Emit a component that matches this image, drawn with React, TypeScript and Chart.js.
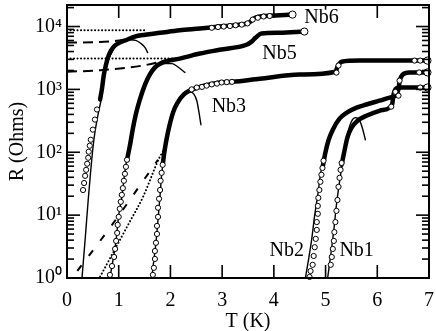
import React, { useEffect, useRef } from 'react';
import { Chart, registerables } from 'chart.js';

Chart.register(...registerables);

type P = [number, number];

// ---- axis ticks ----
const xTicks = [0, 1, 2, 3, 4, 5, 6, 7];
const yDecades = [1, 10, 100, 1000, 10000];
const yDecadeLabels = ['10⁰', '10¹', '10²', '10³', '10⁴'];
const yMinorMult = [2, 3, 4, 5, 6, 7, 8, 9];

// ---- Nb6 (T [K], R [Ohm]) ----
const nb6Circles: P[] = [
  [0.31, 25.1], [0.33, 32.4], [0.35, 42.2], [0.37, 52.5], [0.39, 65.6], [0.41, 81.7],
  [0.42, 102], [0.44, 127], [0.46, 158], [0.5, 229], [0.54, 331], [0.58, 479],
  [2.8, 9550], [2.92, 9820], [3.03, 10000], [3.15, 10190], [3.26, 10470], [3.38, 10720],
  [3.49, 11220], [3.59, 12880], [3.69, 13800], [3.8, 14450], [3.92, 14700],
];
const nb6Band: P[] = [
  [0.64, 692], [0.68, 1072], [0.71, 1660], [0.75, 2400], [0.79, 3206], [0.85, 4150],
  [0.93, 5012], [1.02, 5560], [1.16, 6166], [1.31, 6918], [1.51, 7413], [1.8, 7943],
  [2.18, 8710], [2.57, 9290], [2.95, 10000], [3.34, 10720], [3.49, 11220], [3.55, 12020],
  [3.61, 13400], [3.73, 14450], [4.02, 14960], [4.36, 15490],
];
const nb6Fit: P[] = [
  [0.29, 1], [0.35, 4.03], [0.41, 17.4], [0.46, 52.5], [0.52, 158], [0.6, 398], [0.66, 692],
  [0.71, 1429], [0.79, 2754], [0.89, 4266], [0.98, 5370], [1.1, 6026], [1.22, 6166],
  [1.33, 6026], [1.43, 5370], [1.51, 4624], [1.56, 3846],
];
const nb6Ends: P[] = [[4.36, 15490]];
const nb6Dotted: P[] = [[0, 8710], [1.54, 8710]];
const nb6Dashed: P[] = [[0, 5560], [0.64, 5660], [1.12, 6100]];

// ---- Nb5 ----
const nb5Circles: P[] = [
  [0.83, 1.12], [0.87, 1.55], [0.91, 2.16], [0.93, 2.9], [0.95, 3.89], [0.97, 5.21],
  [0.98, 7.0], [1.0, 9.38], [1.02, 12.6], [1.04, 16.3], [1.06, 21], [1.08, 26.9],
  [1.1, 35.2], [1.12, 45.4], [1.14, 58.7], [1.16, 75.9],
];
const nb5Band: P[] = [
  [1.16, 75.9], [1.22, 132], [1.27, 229], [1.33, 398], [1.41, 692], [1.51, 1202],
  [1.6, 1718], [1.7, 2239], [1.85, 2692], [2.18, 3090], [2.57, 3715], [2.95, 4266],
  [3.47, 5129], [3.57, 5754], [3.65, 6683], [3.76, 7762], [4.11, 7943], [4.59, 8318],
];
const nb5Fit: P[] = [
  [0.83, 1], [0.89, 1.95], [0.95, 4.03], [1.0, 10], [1.06, 19.5], [1.12, 48.9], [1.18, 102],
  [1.25, 212], [1.33, 398], [1.41, 638], [1.51, 1096], [1.6, 1596], [1.74, 2239],
  [1.89, 2570], [2.03, 2570], [2.14, 2291], [2.28, 1862],
];
const nb5Ends: P[] = [[4.59, 8318]];
const nb5Dotted: P[] = [[0, 3090], [2.24, 3090]];
const nb5Dashed: P[] = [[0, 1905], [0.64, 2018], [1.22, 2239], [1.56, 2478], [1.8, 2754]];

// ---- Nb3 ----
const nb3Circles: P[] = [
  [1.66, 1.12], [1.68, 1.45], [1.7, 2.01], [1.7, 2.69], [1.72, 3.63], [1.74, 5.02],
  [1.74, 6.74], [1.76, 9.38], [1.76, 13.1], [1.78, 18.2], [1.8, 25.1], [1.81, 35.2],
  [1.83, 47.1], [1.85, 63.1],
  [2.41, 1000], [2.51, 1072], [2.61, 1096], [2.7, 1148], [2.8, 1202], [2.9, 1236],
  [2.99, 1288], [3.09, 1305], [3.19, 1318],
  [5.21, 1849], [5.25, 2399], [6.72, 2871], [6.83, 2871],
];
const nb3Band: P[] = [
  [1.85, 63.1], [1.89, 110], [1.95, 204], [2.05, 427], [2.14, 617], [2.26, 832],
  [2.37, 955], [2.57, 1096], [2.76, 1202], [2.95, 1288], [3.2, 1318], [3.73, 1479],
  [4.5, 1718], [5.19, 1905], [5.23, 2291], [5.31, 2754], [5.66, 2871], [6.43, 2871], [6.97, 2871],
];
const nb3Fit: P[] = [
  [1.64, 1], [1.68, 1.95], [1.72, 3.63], [1.76, 8.4], [1.8, 21], [1.83, 43.8], [1.87, 81.7],
  [1.93, 158], [1.99, 274], [2.07, 479], [2.16, 692], [2.28, 851], [2.37, 912],
  [2.45, 851], [2.51, 661], [2.55, 442], [2.59, 274],
];
const nb3Ends: P[] = [[6.97, 2871]];

// ---- Nb2 ----
const nb2Circles: P[] = [
  [4.69, 1.04], [4.71, 1.29], [4.75, 1.62], [4.77, 2.24], [4.79, 3.09], [4.81, 4.19],
  [4.83, 5.82], [4.83, 7.76], [4.85, 10.5], [4.85, 14], [4.86, 18.8], [4.88, 25.1],
  [4.9, 33.9], [4.92, 43.8], [4.94, 56.2], [4.96, 73.2],
  [6.41, 795], [6.43, 1377], [6.81, 1862],
];
const nb2Band: P[] = [
  [4.94, 56.2], [5.0, 102], [5.06, 158], [5.14, 229], [5.27, 342], [5.41, 427], [5.6, 513],
  [5.79, 575], [6.04, 661], [6.24, 741], [6.35, 795], [6.41, 1000], [6.43, 1318],
  [6.49, 1718], [6.62, 1862], [6.97, 1862],
];
const nb2Fit: P[] = [
  [4.61, 1], [4.67, 1.95], [4.73, 4.03], [4.79, 10], [4.85, 21], [4.9, 43.8], [4.96, 75.9], [5.02, 118],
];
const nb2Ends: P[] = [[6.97, 1862]];

// ---- Nb1 ----
const nb1Circles: P[] = [
  [5.1, 1.62], [5.12, 2.16], [5.14, 2.9], [5.16, 3.89], [5.17, 5.37], [5.19, 7.76],
  [5.21, 11.7], [5.23, 17.4], [5.25, 28.2], [5.27, 39.2], [5.29, 52.5], [5.31, 67.6],
  [6.27, 531], [6.35, 912], [6.83, 1072],
];
const nb1Band: P[] = [
  [5.31, 63.1], [5.37, 110], [5.42, 170], [5.5, 245], [5.62, 318], [5.79, 382], [6.04, 457],
  [6.24, 513], [6.29, 593], [6.31, 795], [6.35, 1000], [6.43, 1072], [6.97, 1072],
];
const nb1Fit: P[] = [
  [5.04, 1], [5.1, 2.34], [5.16, 5.82], [5.21, 14.6], [5.27, 33.9], [5.33, 70.6], [5.39, 132],
  [5.44, 220], [5.5, 309], [5.58, 355], [5.66, 318], [5.71, 245], [5.77, 158],
];
const nb1Ends: P[] = [[6.97, 1072]];

// ---- diagonal model curves ----
const diagDashed: P[] = [[0.2, 1.3], [0.83, 6.3], [1.76, 76]];
const diagDotted: P[] = [[0.64, 1.05], [1.2, 7.5], [1.47, 19.5], [1.78, 80], [1.87, 108]];

// ---- sample labels ----
const sampleNames = ['Nb6', 'Nb5', 'Nb3', 'Nb2', 'Nb1'];
const sampleLabelT = [4.92, 4.11, 3.13, 4.25, 5.6];
const sampleLabelR = [13800, 3715, 531, 2.7, 2.7];

const FONT = '"Liberation Serif", "Times New Roman", serif';

export default function App() {
  const ref = useRef<HTMLCanvasElement>(null);

  useEffect(() => {
    const canvas = ref.current;
    if (!canvas) return;

    const xy = (arr: P[]) => arr.map(([x, y]) => ({ x, y }));
    const circles = (data: P[], r: number) => ({
      data: xy(data),
      showLine: false,
      pointRadius: r,
      pointBackgroundColor: '#fff',
      pointBorderColor: '#000',
      pointBorderWidth: 1,
      clip: false as const,
    });
    const curve = (data: P[], w: number, dash: number[] = [], round = true) => ({
      data: xy(data),
      showLine: true,
      borderColor: '#000',
      borderWidth: w,
      borderDash: dash,
      pointRadius: 0,
      cubicInterpolationMode: 'monotone' as const,
      borderCapStyle: round ? ('round' as const) : ('butt' as const),
      borderJoinStyle: 'round' as const,
      fill: false,
      clip: false as const,
    });

    const overlay = {
      id: 'overlay',
      afterDatasetsDraw(chart: any) {
        const { ctx, chartArea: a, scales } = chart;
        const xs = scales.x;
        const ys = scales.y;
        ctx.save();
        ctx.strokeStyle = '#000';
        ctx.lineWidth = 1.6;
        const seg = (x1: number, y1: number, x2: number, y2: number) => {
          ctx.beginPath();
          ctx.moveTo(x1, y1);
          ctx.lineTo(x2, y2);
          ctx.stroke();
        };
        for (const t of xTicks) {
          const px = xs.getPixelForValue(t);
          seg(px, a.bottom, px, a.bottom - 13);
          seg(px, a.top, px, a.top + 13);
        }
        for (const d of yDecades) {
          const py = ys.getPixelForValue(d);
          seg(a.left, py, a.left + 13, py);
          seg(a.right, py, a.right - 13, py);
          for (const m of yMinorMult) {
            const v = d * m;
            if (v > ys.max) continue;
            const pm = ys.getPixelForValue(v);
            seg(a.left, pm, a.left + 7, pm);
            seg(a.right, pm, a.right - 7, pm);
          }
        }
        ctx.lineWidth = 2;
        ctx.strokeRect(a.left, a.top, a.right - a.left, a.bottom - a.top);

        ctx.font = `20px ${FONT}`;
        ctx.textAlign = 'center';
        ctx.textBaseline = 'middle';
        sampleNames.forEach((name, i) => {
          const px = xs.getPixelForValue(sampleLabelT[i]);
          const py = ys.getPixelForValue(sampleLabelR[i]);
          const w = ctx.measureText(name).width;
          ctx.fillStyle = '#fff';
          ctx.fillRect(px - w / 2 - 1, py - 8, w + 2, 16);
          ctx.fillStyle = '#000';
          ctx.fillText(name, px, py);
        });
        ctx.restore();
      },
    };

    const chart = new Chart(canvas, {
      type: 'line',
      data: {
        datasets: [
          circles(nb6Ends, 3.6), circles(nb5Ends, 3.6), circles(nb3Ends, 3.6),
          circles(nb2Ends, 3.6), circles(nb1Ends, 3.6),
          circles(nb6Circles, 2.6), circles(nb5Circles, 2.6), circles(nb3Circles, 2.6),
          circles(nb2Circles, 2.6), circles(nb1Circles, 2.6),
          curve(nb6Band, 4.5), curve(nb5Band, 4.5), curve(nb3Band, 4.5),
          curve(nb2Band, 4.5), curve(nb1Band, 4.5),
          curve(nb6Fit, 1.4), curve(nb5Fit, 1.4), curve(nb3Fit, 1.4),
          curve(nb2Fit, 1.4), curve(nb1Fit, 1.4),
          curve(nb6Dotted, 2, [0.1, 3.4]), curve(nb5Dotted, 2, [0.1, 3.4]),
          curve(nb6Dashed, 2, [10, 6], false), curve(nb5Dashed, 2, [10, 6], false),
          curve(diagDashed, 2, [7, 12], false), curve(diagDotted, 2, [0.1, 3.4]),
        ] as any,
      },
      options: {
        responsive: false,
        animation: false,
        devicePixelRatio: 1,
        layout: { padding: { left: 0, top: 5, right: 7, bottom: 0 } },
        plugins: { legend: { display: false }, tooltip: { enabled: false } },
        scales: {
          x: {
            type: 'linear',
            min: 0,
            max: 7,
            afterBuildTicks: (s: any) => {
              s.ticks = xTicks.map((v) => ({ value: v }));
            },
            afterFit: (s: any) => {
              s.height = 53;
              s.paddingLeft = 0;
              s.paddingRight = 0;
            },
            ticks: {
              color: '#000',
              font: { family: FONT, size: 20 },
              padding: 11,
              maxRotation: 0,
              autoSkip: false,
            },
            grid: { display: false, drawTicks: false },
            border: { display: false },
            title: {
              display: true,
              text: 'T (K)',
              color: '#000',
              font: { family: FONT, size: 20 },
              padding: { top: 0, bottom: -3 },
            },
          },
          y: {
            type: 'logarithmic',
            min: 1,
            max: 22000,
            afterBuildTicks: (s: any) => {
              s.ticks = yDecades.map((v) => ({ value: v }));
            },
            afterFit: (s: any) => {
              s.width = 67;
              s.paddingTop = 0;
              s.paddingBottom = 0;
            },
            ticks: {
              color: '#000',
              font: { family: FONT, size: 20 },
              padding: 5,
              autoSkip: false,
              callback: (v: any) => {
                const i = yDecades.indexOf(Number(v));
                return i >= 0 ? yDecadeLabels[i] : '';
              },
            },
            grid: { display: false, drawTicks: false },
            border: { display: false },
            title: {
              display: true,
              text: 'R (Ohms)',
              color: '#000',
              font: { family: FONT, size: 20 },
              padding: { top: 6, bottom: 0 },
            },
          },
        },
      },
      plugins: [overlay],
    });

    return () => chart.destroy();
  }, []);

  return (
    <div style={{ position: 'absolute', left: 0, top: 0, width: 436, height: 331, background: '#fff' }}>
      <canvas ref={ref} width={436} height={331} style={{ width: 436, height: 331, display: 'block' }} />
    </div>
  );
}
